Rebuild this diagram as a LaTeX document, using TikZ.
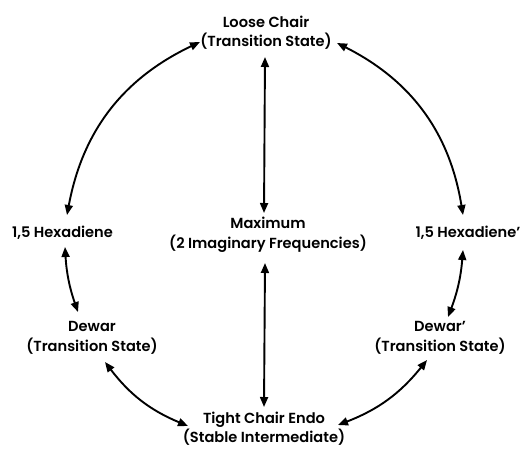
\documentclass[tikz,border=0pt]{standalone}
\usepackage{fontspec}
\setmainfont{Poppins}[BoldFont={* SemiBold}]
\usetikzlibrary{arrows.meta}
\begin{document}
\begin{tikzpicture}[x=1pt,y=-1pt,
  lbl/.style={inner sep=0pt, align=center, font=\fontsize{14.6}{19.5}\selectfont\bfseries},
  conn/.style={line width=1.9pt, {Triangle[length=10pt,width=8pt]}-{Triangle[length=10pt,width=8pt]}}]
\useasboundingbox (0,0) rectangle (529,448);
\node[lbl] (lc) at (266,32.5) {Loose Chair\\(Transition State)};
\node[lbl] (mx) at (268,235) {Maximum\\(2 Imaginary Frequencies)};
\node[lbl] (hl) at (62.5,233) {1,5 Hexadiene};
\node[lbl] (hr) at (468,233) {1,5 Hexadiene'};
\node[lbl] (dl) at (92,338) {Dewar\\(Transition State)};
\node[lbl] (dr) at (440,338) {Dewar'\\(Transition State)};
\node[lbl] (tc) at (264,428.5) {Tight Chair Endo\\(Stable Intermediate)};
\coordinate (a1) at (200,42);
\coordinate (a2) at (67,215);
\coordinate (b1) at (337,43);
\coordinate (b2) at (463,215);
\coordinate (c1) at (265,57);
\coordinate (c2) at (264,213);
\coordinate (d1) at (265,263);
\coordinate (d2) at (264,407);
\coordinate (e1) at (65,247);
\coordinate (e2) at (78,312);
\coordinate (f1) at (463,250);
\coordinate (f2) at (448,317);
\coordinate (g1) at (105,362);
\coordinate (g2) at (188,426);
\coordinate (h1) at (338,425);
\coordinate (h2) at (427,360);
\draw[conn] (a2) to[bend left=27] (a1);
\draw[conn] (b1) to[bend left=27] (b2);
\draw[conn] (c1) -- (c2);
\draw[conn] (d1) -- (d2);
\draw[conn] (e1) to[bend right=8] (e2);
\draw[conn] (f1) to[bend left=8] (f2);
\draw[conn] (g1) to[bend right=15] (g2);
\draw[conn] (h1) to[bend right=15] (h2);
\end{tikzpicture}
\end{document}
